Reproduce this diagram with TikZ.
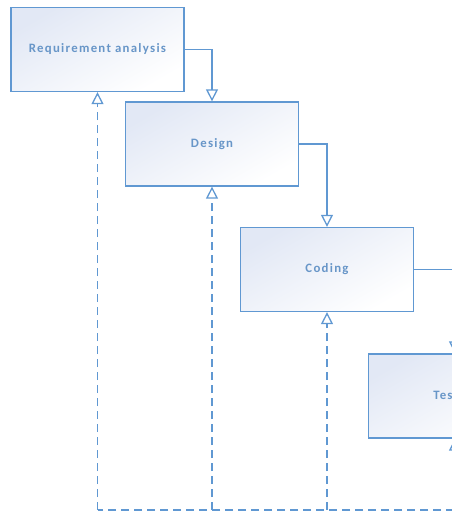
\documentclass[tikz,border=0pt]{standalone}
\usepackage{fontspec}
\usetikzlibrary{arrows.meta}
\newfontfamily\stagefont[LetterSpace=10]{Carlito}
\definecolor{stageline}{RGB}{96,152,210}
\definecolor{stagetext}{RGB}{104,150,200}
\definecolor{stagefill}{RGB}{226,232,245}

\begin{document}
\begin{tikzpicture}[x=1pt,y=-1pt,
    stage/.style={draw=stageline, line width=1.3pt, minimum width=173pt, minimum height=84pt,
      inner sep=0pt, shading=axis, top color=stagefill, bottom color=white, shading angle=30,
      font=\stagefont\bfseries\fontsize{12.8}{15}\selectfont, text=stagetext},
    flow/.style={draw=stageline, line width=1.3pt, -{Triangle[open,length=12pt,width=12pt]}},
    feedback/.style={flow, dash pattern=on 8pt off 5pt}]
  \useasboundingbox (0,0) rectangle (452,512);
  \clip (0,0) rectangle (452,512);
  % phases
  \node[stage] (req) at (97.5,49.5) {Requirement analysis};
  \node[stage] (design) at (212,144) {Design};
  \node[stage] (coding) at (327,269.5) {Coding};
  \node[stage] (testing) at (455,396) {Testing};
  % forward flow
  \draw[flow] (req.east) -| (design.north);
  \draw[flow] (design.east) -| (coding.north);
  \draw[flow] (coding.east) -| (testing.north);
  % feedback loop
  \coordinate (loop) at (480,510);
  \draw[feedback, -] (loop) -- (req.south |- loop);
  \draw[feedback] (req.south |- loop) -- (req.south);
  \draw[feedback] (design.south |- loop) -- (design.south);
  \draw[feedback] (coding.south |- loop) -- (coding.south);
  \draw[feedback] (testing.south |- loop) -- (testing.south);
\end{tikzpicture}
\end{document}
